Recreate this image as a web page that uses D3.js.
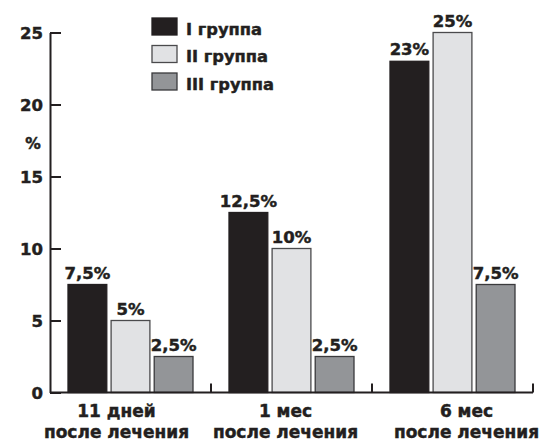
<!DOCTYPE html>
<html>
<head>
<meta charset="utf-8">
<script src="https://cdn.jsdelivr.net/npm/d3@7"></script>
<style>
  html, body { margin: 0; padding: 0; background: #fff; }
  svg text { font-family: "DejaVu Sans", sans-serif; font-weight: bold; fill: #231f20; stroke: #231f20; stroke-width: 0.45px; }
</style>
</head>
<body>
<svg id="chart" width="540" height="443"></svg>
<script>
// Categories (time after treatment) and group names
const categories = ["11 дней", "1 мес", "6 мес"];
const categorySub = "после лечения";
const groups = ["I группа", "II группа", "III группа"];

// Percent values per group, one entry per category
const group1 = [7.5, 12.5, 23];
const group2 = [5, 10, 25];
const group3 = [2.5, 2.5, 7.5];

const yTicks = [0, 5, 10, 15, 20, 25];

const colors = ["#231f20", "#e1e2e4", "#939598"];
const strokes = ["#231f20", "#4a4a4c", "#3a3a3c"];

const fmt = v => String(v).replace(".", ",") + "%";

const svg = d3.select("#chart");
const x0 = d3.scaleBand().domain(categories).range([50, 533]).padding(0);
const x1 = d3.scaleBand().domain(groups).range([18, x0.bandwidth() - 18]).paddingInner(0.1).paddingOuter(0);
const y = d3.scaleLinear().domain([0, 25]).range([392.5, 32.5]);

const series = [group1, group2, group3];
const rows = categories.map((c, i) => ({
  cat: c,
  vals: groups.map((g, j) => ({ g, j, v: series[j][i] }))
}));

// Bars
const cat = svg.selectAll("g.cat").data(rows).enter().append("g")
  .attr("class", "cat")
  .attr("transform", d => `translate(${x0(d.cat)},0)`);

cat.selectAll("rect").data(d => d.vals).enter().append("rect")
  .attr("x", d => x1(d.g))
  .attr("y", d => y(d.v))
  .attr("width", x1.bandwidth())
  .attr("height", d => y(0) - y(d.v))
  .attr("fill", d => colors[d.j])
  .attr("stroke", d => strokes[d.j])
  .attr("stroke-width", 1.3);

// Value labels above bars
cat.selectAll("text.val").data(d => d.vals).enter().append("text")
  .attr("class", "val")
  .attr("x", d => x1(d.g) + x1.bandwidth() / 2)
  .attr("y", d => y(d.v) - 6)
  .attr("text-anchor", "middle")
  .attr("font-size", 16.5)
  .text(d => fmt(d.v));

// Y axis with inward ticks
const yAxis = d3.axisRight(y).tickValues(yTicks).tickSize(11).tickSizeOuter(0).tickFormat("");
const ya = svg.append("g").attr("transform", "translate(50,0)").call(yAxis);
ya.select(".domain").attr("stroke", "#231f20").attr("stroke-width", 2);
ya.selectAll(".tick line").attr("stroke", "#231f20").attr("stroke-width", 2);

svg.selectAll("text.ytick").data(yTicks).enter().append("text")
  .attr("class", "ytick")
  .attr("x", 43)
  .attr("y", d => y(d) + 6)
  .attr("text-anchor", "end")
  .attr("font-size", 16.5)
  .text(d => d);

svg.append("text").attr("x", 33).attr("y", 149).attr("text-anchor", "middle")
  .attr("font-size", 15.5).text("%");

// X axis baseline with separators between categories
const xa = svg.append("g");
xa.append("line").attr("x1", 50).attr("x2", 533).attr("y1", y(0)).attr("y2", y(0))
  .attr("stroke", "#231f20").attr("stroke-width", 2);
xa.selectAll("line.sep").data(categories).enter().append("line")
  .attr("class", "sep")
  .attr("x1", d => x0(d) + x0.bandwidth()).attr("x2", d => x0(d) + x0.bandwidth())
  .attr("y1", y(0)).attr("y2", y(0) - 9)
  .attr("stroke", "#231f20").attr("stroke-width", 2);

// Category labels
const labelShift = [-14, -6, 14];
const xl = svg.selectAll("g.xl").data(categories).enter().append("g")
  .attr("class", "xl")
  .attr("transform", (d, i) => `translate(${x0(d) + x0.bandwidth() / 2 + labelShift[i]},0)`);
xl.append("text").attr("y", 417).attr("text-anchor", "middle").attr("font-size", 17).text(d => d);
xl.append("text").attr("y", 438).attr("text-anchor", "middle").attr("font-size", 17).text(categorySub);

// Legend
const lg = svg.selectAll("g.lg").data(groups).enter().append("g")
  .attr("class", "lg")
  .attr("transform", (d, i) => `translate(152,${18 + i * 27.5})`);
lg.append("rect").attr("width", 25).attr("height", 17)
  .attr("fill", (d, i) => colors[i]).attr("stroke", (d, i) => strokes[i]).attr("stroke-width", 1.3);
lg.append("text").attr("x", 34).attr("y", 16.5).attr("font-size", 16.3).text(d => d);
</script>
</body>
</html>
